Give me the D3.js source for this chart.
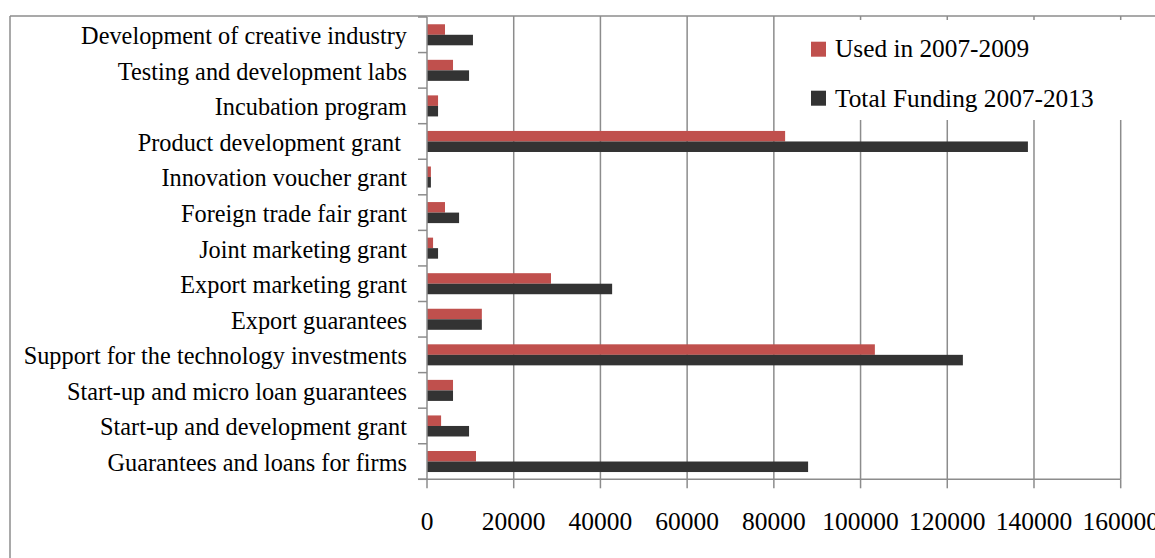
<!DOCTYPE html>
<html>
<head>
<meta charset="utf-8">
<script src="https://cdn.jsdelivr.net/npm/d3@7"></script>
<style>
  html, body { margin: 0; padding: 0; background: #fff; }
  svg { display: block; }
  text { font-family: "Liberation Serif", "Times New Roman", serif; fill: #000; white-space: pre; }
</style>
</head>
<body>
<svg id="chart" width="1155" height="558"></svg>
<script>
// ---- data (top to bottom) ----
const categories = [
  "Development of creative industry",
  "Testing and development labs",
  "Incubation program",
  "Product development grant ",
  "Innovation voucher grant",
  "Foreign trade fair grant",
  "Joint marketing grant",
  "Export marketing grant",
  "Export guarantees",
  "Support for the technology investments",
  "Start-up and micro loan guarantees",
  "Start-up and development grant",
  "Guarantees and loans for firms"
];
const usedValues = [4150, 6000, 2550, 82600, 900, 4150, 1400, 28600, 12650, 103300, 6000, 3250, 11300];
const totalValues = [10600, 9700, 2550, 138600, 900, 7400, 2550, 42700, 12650, 123600, 6000, 9700, 87900];
const seriesNames = ["Used in 2007-2009", "Total Funding 2007-2013"];
const seriesColors = ["#C0504D", "#333333"];
const xTicks = [0, 20000, 40000, 60000, 80000, 100000, 120000, 140000, 160000];

const svg = d3.select("#chart");
const frameColor = "#8c8c8c";
const plot = { left: 427, right: 1120.7, top: 17, bottom: 479.3 };

const x = d3.scaleLinear().domain([0, 160000]).range([plot.left, plot.right]);
const y = d3.scaleBand().domain(categories).range([plot.top, plot.bottom]).padding(0);
const ySub = d3.scaleBand().domain(seriesNames).range([0, y.bandwidth()]).paddingInner(0).paddingOuter(0.69);

// outer frame
svg.append("line").attr("x1", 10).attr("x2", 10).attr("y1", 16).attr("y2", 558)
  .attr("stroke", frameColor).attr("stroke-width", 1.5);
svg.append("line").attr("x1", 10).attr("x2", 1155).attr("y1", 16).attr("y2", 16)
  .attr("stroke", frameColor).attr("stroke-width", 1.5);

// gridlines
svg.append("g").selectAll("line").data(xTicks.slice(1)).join("line")
  .attr("x1", d => x(d)).attr("x2", d => x(d))
  .attr("y1", 16).attr("y2", plot.bottom)
  .attr("stroke", frameColor).attr("stroke-width", 1.5);

// bars
const rows = categories.map((c, i) => ({ cat: c, vals: [usedValues[i], totalValues[i]] }));
const g = svg.append("g");
rows.forEach(r => {
  r.vals.forEach((v, j) => {
    g.append("rect")
      .attr("x", x(0))
      .attr("y", y(r.cat) + ySub(seriesNames[j]))
      .attr("width", x(v) - x(0))
      .attr("height", ySub.bandwidth())
      .attr("fill", seriesColors[j]);
  });
});

// y axis line and ticks
svg.append("line").attr("x1", plot.left).attr("x2", plot.left).attr("y1", plot.top).attr("y2", plot.bottom)
  .attr("stroke", frameColor).attr("stroke-width", 1.5);
const bounds = categories.map(c => y(c)).concat([plot.bottom]);
svg.append("g").selectAll("line").data(bounds).join("line")
  .attr("x1", plot.left - 9).attr("x2", plot.left)
  .attr("y1", d => d).attr("y2", d => d)
  .attr("stroke", frameColor).attr("stroke-width", 1.5);

// x axis line and ticks
svg.append("line").attr("x1", plot.left - 9).attr("x2", plot.right).attr("y1", plot.bottom).attr("y2", plot.bottom)
  .attr("stroke", frameColor).attr("stroke-width", 1.5);
svg.append("g").selectAll("line").data(xTicks).join("line")
  .attr("x1", d => x(d)).attr("x2", d => x(d))
  .attr("y1", plot.bottom).attr("y2", plot.bottom + 9)
  .attr("stroke", frameColor).attr("stroke-width", 1.5);

// category labels
const labelSx = 0.935;
svg.append("g").selectAll("text").data(categories).join("text")
  .attr("transform", d => `translate(407,${y(d) + y.bandwidth() / 2 + 9.4}) scale(${labelSx},1)`)
  .attr("text-anchor", "end")
  .attr("font-size", 26)
  .text(d => d);

// tick labels
const tickSx = 0.98;
svg.append("g").selectAll("text").data(xTicks).join("text")
  .attr("transform", d => `translate(${x(d)},530) scale(${tickSx},1)`)
  .attr("text-anchor", "middle")
  .attr("font-size", 26)
  .text(d => d);

// legend
svg.append("rect").attr("x", 800).attr("y", 20).attr("width", 340).attr("height", 100).attr("fill", "#fff");
const legSx = 0.975;
seriesNames.forEach((s, i) => {
  svg.append("rect").attr("x", 811).attr("y", 41.7 + i * 49).attr("width", 15).attr("height", 15)
    .attr("fill", seriesColors[i]);
  svg.append("text")
    .attr("transform", `translate(835,${57.3 + i * 49.4}) scale(${legSx},1)`)
    .attr("font-size", 26)
    .text(s);
});
</script>
</body>
</html>
